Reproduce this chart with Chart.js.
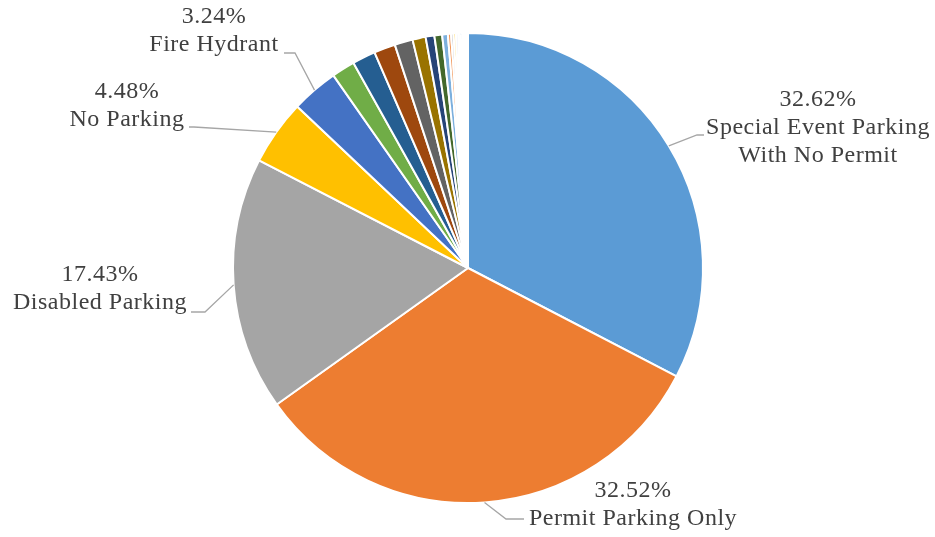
<!DOCTYPE html>
<html>
<head>
<meta charset="utf-8">
<script src="https://cdn.jsdelivr.net/npm/chart.js@4"></script>
<style>
  html, body { margin: 0; padding: 0; background: #fff; }
  #wrap { width: 935px; height: 537px; }
</style>
</head>
<body>
<div id="wrap"><canvas id="pie" width="935" height="537"></canvas></div>
<script>
// categories (only the five largest are named in the picture)
const categories = [
  'Special Event Parking With No Permit', 'Permit Parking Only', 'Disabled Parking',
  'No Parking', 'Fire Hydrant',
  'Other 1', 'Other 2', 'Other 3', 'Other 4', 'Other 5', 'Other 6', 'Other 7',
  'Other 8', 'Other 9', 'Other 10', 'Other 11', 'Other 12', 'Other 13', 'Other 14',
  'Other 15', 'Other 16', 'Other 17'
];
// share of citations, %
const shares = [
  32.62, 32.52, 17.43, 4.48, 3.24,
  1.60, 1.60, 1.47, 1.25, 0.90, 0.60, 0.53, 0.39, 0.22,
  0.17, 0.16, 0.15, 0.14, 0.14, 0.13, 0.13, 0.13
];
// text lines shown under the percentage for labelled slices
const labelLines = [
  ['Special Event Parking', 'With No Permit'],
  ['Permit Parking Only'],
  ['Disabled Parking'],
  ['No Parking'],
  ['Fire Hydrant']
];
const sliceColors = [
  '#5B9BD5', '#ED7D31', '#A5A5A5', '#FFC000', '#4472C4', '#70AD47', '#255E91',
  '#9E480E', '#636363', '#997300', '#264478', '#43682B', '#7CAFDD', '#F1975A',
  '#B7B7B7', '#FFCD33', '#698ED0', '#8CC168', '#327DC2', '#D26012', '#848484',
  '#CC9A00'
];

const FONT = '24px "Liberation Serif", "DejaVu Serif", serif';
const TEXT_COLOR = '#404040';
const LINE_COLOR = '#A6A6A6';

// label layout: text block centre + first-line y, leader bend and end points
const labelLayout = [
  { x: 818, y: 100, bend: [697, 135], end: [704, 135] },
  { x: 633, y: 491, bend: [506, 519], end: [524, 519] },
  { x: 100, y: 275, bend: [205, 312], end: [191, 312] },
  { x: 127, y: 92,  bend: [194, 127], end: [189, 127] },
  { x: 214, y: 17,  bend: [295, 53],  end: [284, 53] }
];

const outsideLabels = {
  id: 'outsideLabels',
  afterDatasetsDraw(chart) {
    const { ctx } = chart;
    const meta = chart.getDatasetMeta(0);
    const data = chart.data.datasets[0].data;
    const total = data.reduce((a, b) => a + b, 0);
    ctx.save();
    labelLines.forEach((lines, i) => {
      const arc = meta.data[i];
      const lay = labelLayout[i];
      const mid = (arc.startAngle + arc.endAngle) / 2;
      const ax = arc.x + Math.cos(mid) * arc.outerRadius;
      const ay = arc.y + Math.sin(mid) * arc.outerRadius;

      ctx.strokeStyle = LINE_COLOR;
      ctx.lineWidth = 1.3;
      ctx.beginPath();
      ctx.moveTo(ax, ay);
      ctx.lineTo(lay.bend[0], lay.bend[1]);
      ctx.lineTo(lay.end[0], lay.end[1]);
      ctx.stroke();

      ctx.font = FONT;
      ctx.letterSpacing = '0.5px';
      ctx.fillStyle = TEXT_COLOR;
      ctx.textAlign = 'center';
      ctx.textBaseline = 'middle';
      const pct = (data[i] / total * 100).toFixed(2) + '%';
      ctx.fillText(pct, lay.x, lay.y);
      lines.forEach((t, k) => ctx.fillText(t, lay.x, lay.y + 28 * (k + 1)));
    });
    ctx.restore();
  }
};

new Chart(document.getElementById('pie'), {
  type: 'pie',
  data: {
    labels: categories,
    datasets: [{
      data: shares,
      backgroundColor: sliceColors,
      borderColor: '#ffffff',
      borderWidth: 2
    }]
  },
  options: {
    responsive: false,
    animation: false,
    layout: { padding: { top: 32, bottom: 33, left: 232, right: 231 } },
    plugins: {
      legend: { display: false },
      tooltip: { enabled: false }
    }
  },
  plugins: [outsideLabels]
});
</script>
</body>
</html>
